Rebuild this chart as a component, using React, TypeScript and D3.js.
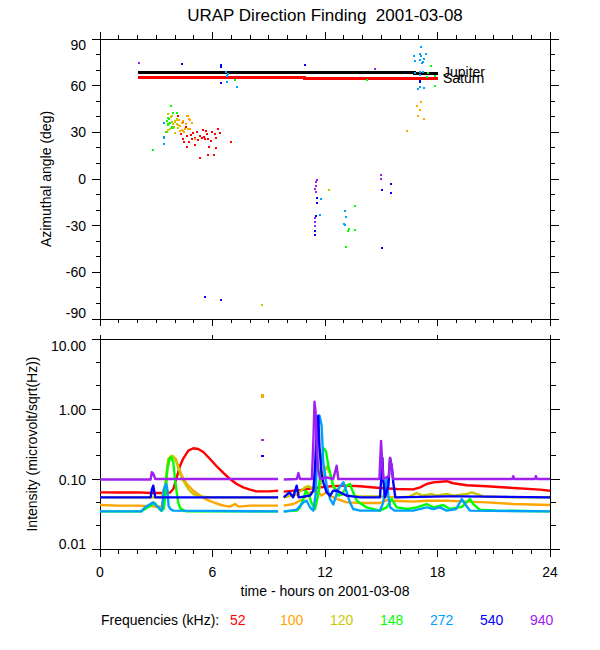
import React from "react";
import * as d3 from "d3";

// ---------- data ----------
const hourTicks = [0, 6, 12, 18, 24];
const hourMinorTicks = d3.range(0, 25, 1);
const angleTicks = [90, 60, 30, 0, -30, -60, -90];
const angleMinorTicks = d3.range(-90, 91, 10);
const intensityTicks = [10, 1, 0.1, 0.01];
const intensityTickLabels = ["10.00", "1.00", "0.10", "0.01"];
const intensityMinorTicks = [0.0215, 0.0464, 0.215, 0.464, 2.15, 4.64];
const frequencies = ["52", "100", "120", "148", "272", "540", "940"];
const freqColors = ["#ff0000", "#ffa500", "#c8c800", "#00ff00", "#00a0ff", "#0000ff", "#a020f0"];

type P = [number, number | null];

const jupiterAngle: P[] = [[2.0, 68.5], [16.75, 68.5], [16.75, 67.9], [18.05, 67.9]];
const saturnAngle: P[] = [[2.0, 65.3], [10.9, 65.3], [10.9, 64.7], [18.05, 64.7]];

const angle52: P[] = [[4.16,40.7],[4.44,36.6],[4.57,33.6],[4.3,28.7],[4.62,27.6],[4.43,25.4],[4.48,23.5],[4.75,23.5],[4.64,20.3],[4.89,25.6],[4.94,29.3],[5.16,30.2],[5.33,27.6],[5.49,31.2],[5.65,30.8],[5.69,29.1],[5.6,25.4],[5.78,25.9],[5.92,24.4],[6.13,28.7],[6.19,26.1],[5.97,30.2],[6.29,32.3],[6.4,29.3],[7.0,23.7],[5.08,21.8],[6.2,19.8],[5.81,20.3],[5.74,15.7],[5.35,13.6],[6.08,15.5],[5.05,26.5],[5.25,25.2],[5.45,26.5],[4.85,28.0],[5.55,27.0]];
const angle100: P[] = [[3.77,39.8],[4.09,37.7],[4.23,37.9],[4.44,37.3],[4.66,40.5],[4.76,38.3],[4.59,35.1],[4.89,35.8],[4.53,32.3],[4.71,31.9],[4.36,36.2],[4.27,30.8],[4.5,30.4],[3.57,30.4],[4.8,31.9],[4.44,30.8],[5.07,25.9],[4.71,40.5],[4.8,37.9],[4.0,36.5],[3.95,33.5],[4.15,34.5],[17.14,49.6],[16.91,46.8],[17.07,44.4],[16.98,40.7],[17.3,38.6],[16.37,30.6]];
const angle120: P[] = [[3.64,41.5],[3.82,40.5],[4.0,37.3],[4.09,35.5],[3.91,35.1],[4.18,32.9],[4.0,29.7],[4.27,34],[3.73,32.3],[3.6,31.4],[4.36,31.2],[4.09,38.3],[3.85,36.8],[3.7,35.5],[8.64,-80.8],[12.23,-7.1]];
const angle148: P[] = [[3.8,46.9],[3.88,42.2],[4.11,42.2],[3.65,39.2],[3.56,37.3],[3.73,36.2],[3.6,34.4],[3.82,33.6],[3.52,30.1],[3.91,32.9],[3.7,38.3],[2.81,18.5],[3.64,35.1],[3.82,33],[7.18,63.8],[17.67,72.4],[17.51,68.3],[17.87,66.4],[17.87,59.9],[17.42,65.3],[14.22,63.6],[13.6,-17.5],[13.3,-32.1],[13.21,-33.2],[13.6,-32.8],[13.14,-44]];
const angle272: P[] = [[3.41,36],[3.41,27.1],[3.41,22.8],[3.43,26.5],[6.72,68.5],[6.81,67.5],[6.79,66.4],[6.79,62.1],[7.32,59.3],[11.77,-12.9],[11.75,-23.3],[17.14,84.7],[17.07,80.4],[17.37,80.6],[16.73,78.9],[17.12,78.9],[17.26,77.2],[16.82,76.1],[17.07,76.5],[17.16,74.6],[17.24,75.4],[17.2,74.9],[17.05,68.5],[17.07,66.8],[17.07,59.3],[17.28,58.8],[16.98,57.8],[16.8,68.1],[17.25,69],[13.07,-20.7],[13.1,-24.4],[13.01,-28.7],[13.07,-29.5]];
const angle540: P[] = [[4.39,74.1],[6.47,73.1],[6.45,71.8],[10.95,73.1],[6.45,61.6],[5.62,-75.6],[6.47,-77.6],[11.56,-12.3],[11.57,-15.5],[11.52,-24.1],[11.48,-33.2],[11.47,-35.8],[17.07,63.1],[17.07,62.3],[15.52,-3],[15.06,-7.1],[15.52,-8.8],[15.02,-44.2]];
const angle940: P[] = [[2.08,74.6],[11.56,-0.6],[11.5,-2.2],[11.5,-4.7],[11.47,-6.3],[11.5,-8.6],[11.47,-25],[11.47,-27.4],[11.45,-30],[14.67,70.7],[15.0,2.6],[15.0,0]];

const intensity52: P[] = [[0,0.0645],[1,0.064],[2,0.0645],[2.76,0.0631],[3.5,0.063],[3.73,0.064],[3.91,0.072],[4.12,0.112],[4.27,0.155],[4.44,0.196],[4.71,0.254],[4.98,0.275],[5.24,0.268],[5.51,0.243],[5.87,0.193],[6.22,0.152],[6.58,0.122],[6.93,0.1],[7.29,0.085],[7.64,0.076],[8.0,0.0705],[8.36,0.0666],[9.0,0.0666],[9.5,0.0681],[9.6,null],[9.8,0.066],[10.67,0.069],[11.38,0.0744],[12.27,0.0786],[13.16,0.0803],[13.87,0.0786],[14.93,0.0744],[15.82,0.072],[16.71,0.071],[17.07,0.076],[17.42,0.0848],[17.78,0.0896],[18.49,0.093],[18.84,0.087],[19.56,0.0815],[20.62,0.0786],[22.04,0.0744],[23.47,0.0705],[24,0.068]];
const intensity100: P[] = [[0,0.0425],[1,0.0416],[2,0.0416],[2.76,0.041],[3.0,0.04],[3.3,0.041],[3.47,0.072],[3.59,0.139],[3.73,0.196],[3.91,0.205],[4.05,0.193],[4.18,0.147],[4.36,0.112],[4.62,0.085],[4.98,0.068],[5.33,0.058],[5.69,0.0507],[6.13,0.0454],[6.58,0.0416],[6.93,0.0403],[7.2,0.0439],[7.4,0.0403],[8.0,0.0416],[9.5,0.0416],[9.6,null],[9.8,0.0416],[10.31,0.0439],[10.84,0.0518],[11.2,0.0645],[11.56,0.068],[11.82,0.058],[12.09,0.065],[12.27,0.058],[12.62,0.052],[13.16,0.0464],[14.0,0.0454],[14.93,0.0454],[15.3,0.05],[15.64,0.049],[16.71,0.0475],[17.42,0.049],[18.49,0.049],[19.56,0.0475],[20.62,0.0464],[22.04,0.0439],[24,0.0425]];
const intensity120: P[] = [[0,0.0547],[3.3,0.0547],[3.47,0.08],[3.64,0.193],[3.8,0.215],[3.91,0.21],[4.09,0.173],[4.27,0.12],[4.44,0.0947],[4.71,0.072],[4.98,0.061],[5.33,0.0565],[5.87,0.0547],[9.5,0.0547],[9.6,null],[9.8,0.0547],[10.5,0.06],[10.93,0.076],[11.11,0.079],[11.38,0.072],[11.64,0.064],[11.91,0.12],[12.09,0.15],[12.27,0.12],[12.44,0.08],[12.71,0.0645],[13.16,0.0578],[13.87,0.0565],[14.93,0.0565],[15.82,0.0547],[16.5,0.056],[16.89,0.063],[17.2,0.0578],[17.69,0.061],[17.95,0.0578],[18.49,0.061],[18.84,0.0578],[19.56,0.061],[19.82,0.0645],[20.1,0.061],[20.45,0.0565],[22.04,0.0547],[24,0.0547]];
const intensity148: P[] = [[0,0.0345],[2.2,0.0345],[2.4,0.0373],[2.76,0.0425],[2.93,0.045],[3.1,0.0394],[3.25,0.0353],[3.4,0.0373],[3.52,0.072],[3.59,0.139],[3.7,0.193],[3.8,0.205],[3.91,0.173],[4.0,0.1],[4.09,0.0645],[4.18,0.045],[4.3,0.0373],[4.6,0.0345],[9.5,0.0345],[9.6,null],[9.8,0.0345],[10.5,0.0353],[10.67,0.0394],[10.84,0.0518],[10.98,0.068],[11.15,0.0578],[11.29,0.045],[11.47,0.0373],[11.64,0.06],[11.82,0.2],[11.93,0.276],[12.05,0.25],[12.18,0.155],[12.44,0.0803],[12.71,0.0578],[12.9,0.06],[13.16,0.08],[13.33,0.085],[13.5,0.0645],[13.7,0.049],[14.2,0.0394],[14.93,0.0353],[15.29,0.0394],[15.56,0.0518],[15.82,0.0394],[16.4,0.0373],[16.89,0.0394],[17.42,0.0439],[17.78,0.0394],[18.31,0.0425],[18.65,0.0373],[19.3,0.04],[19.73,0.0518],[19.91,0.0439],[20.25,0.0365],[21.15,0.0353],[24,0.0345]];
const intensity272: P[] = [[0,0.0345],[2.2,0.0345],[2.4,0.0394],[2.6,0.0425],[2.84,0.0464],[3.0,0.0416],[3.2,0.0373],[3.3,0.0353],[3.4,0.07],[3.47,0.0803],[3.53,0.0848],[3.59,0.072],[3.66,0.041],[3.75,0.0373],[3.91,0.0353],[9.5,0.0345],[9.6,null],[9.8,0.0342],[10.5,0.0365],[10.84,0.0464],[11.02,0.049],[11.2,0.0394],[11.38,0.0353],[11.5,0.06],[11.64,0.6],[11.7,0.81],[11.76,0.7],[11.82,0.578],[11.91,0.173],[12.09,0.0803],[12.27,0.0518],[12.44,0.0434],[12.71,0.072],[12.98,0.0896],[13.16,0.0645],[13.33,0.0464],[13.5,0.0373],[13.87,0.0353],[14.93,0.0353],[15.11,0.0464],[15.2,0.072],[15.29,0.1],[15.38,0.0578],[15.47,0.0394],[15.7,0.0353],[16.71,0.0353],[17.42,0.0394],[17.78,0.0373],[18.13,0.0394],[18.49,0.0353],[19.0,0.0373],[19.29,0.0518],[19.47,0.0439],[19.73,0.0353],[24,0.0345]];
const intensity540: P[] = [[0,0.0547],[2.7,0.0547],[2.76,0.07],[2.84,0.0803],[2.9,0.065],[2.95,0.0547],[9.5,0.0547],[9.6,null],[9.8,0.0547],[10.1,0.0645],[10.3,0.0547],[10.49,0.0803],[10.6,0.0547],[11.2,0.0578],[11.38,0.0681],[11.47,0.15],[11.56,0.5],[11.64,0.8],[11.7,0.3],[11.82,0.12],[11.91,0.0896],[12.09,0.0645],[12.27,0.0578],[12.44,0.0681],[12.62,0.0681],[12.98,0.061],[13.16,0.0578],[13.87,0.0547],[14.93,0.0547],[15.0,0.1],[15.06,0.2],[15.11,0.1],[15.2,0.0547],[15.38,0.08],[15.47,0.2],[15.56,0.15],[15.64,0.0896],[15.75,0.0547],[18.5,0.0565],[19.2,0.0565],[24,0.0547]];
const intensity940: P[] = [[0,0.0985],[2.7,0.0985],[2.76,0.125],[2.84,0.12],[2.95,0.1],[9.5,0.1],[9.6,null],[9.8,0.0985],[10.5,0.1],[10.58,0.122],[10.67,0.1],[11.3,0.1],[11.38,0.35],[11.44,1.27],[11.5,0.9],[11.56,0.3],[11.64,0.13],[11.75,0.1],[12.09,0.105],[12.44,0.1],[12.62,0.155],[12.71,0.1],[14.9,0.1],[14.99,0.35],[15.06,0.15],[15.11,0.1],[15.4,0.11],[15.47,0.2],[15.56,0.15],[15.64,0.1],[22.0,0.1],[22.04,0.11],[22.1,0.1],[23.2,0.1],[23.25,0.11],[23.3,0.1],[24,0.1]];

const isolated100: P[] = [[8.62, 1.58], [8.62, 1.5]];
const isolated540: P[] = [[8.62, 0.215]];
const isolated940: P[] = [[8.62, 0.364]];

const angleSeries = [angle52, angle100, angle120, angle148, angle272, angle540, angle940];
const intensitySeries = [intensity52, intensity100, intensity120, intensity148, intensity272, intensity540, intensity940];
const isolatedSeries: P[][] = [[], isolated100, [], [], [], isolated540, isolated940];

// ---------- layout ----------
const W = 600, H = 650;
const L = 100, R = 550;
const T1 = 39, B1 = 319;
const T2 = 339, B2 = 549;
const FONT = "'Liberation Sans', Arial, Helvetica, sans-serif";

export default function App() {
  const x = d3.scaleLinear().domain([0, 24]).range([L, R]);
  const yA = d3.scaleLinear().domain([-90, 90]).range([B1, T1]);
  const yI = d3.scaleLog().domain([0.01, 10]).range([B2, T2]);

  const lineA = d3.line<P>().defined(d => d[1] != null).x(d => x(d[0])).y(d => yA(d[1] as number)).curve(d3.curveStepAfter);
  const lineI = d3.line<P>().defined(d => d[1] != null).x(d => x(d[0])).y(d => yI(d[1] as number));

  const text = (props: any, s: string) => (
    <text fontFamily={FONT} fontSize={14} fill="#000" style={{ whiteSpace: "pre" }} {...props}>{s}</text>
  );

  const xTicksFor = (yBase: number, dir: number, withMinor: boolean, maj: number, min: number) => (
    <g>
      {withMinor && hourMinorTicks.map(h => (
        <line key={"m" + h} x1={x(h)} x2={x(h)} y1={yBase} y2={yBase + dir * min} stroke="#000" />
      ))}
      {hourTicks.map(h => (
        <line key={"M" + h} x1={x(h)} x2={x(h)} y1={yBase} y2={yBase + dir * maj} stroke="#000" />
      ))}
    </g>
  );

  const labelDy = (i: number, n: number) => (i === 0 ? 12 : i === n - 1 ? 0 : 6);

  return (
    <svg width={W} height={H} style={{ position: "absolute", left: 0, top: 0, background: "#fff" }} shapeRendering="crispEdges">
      <rect x={0} y={0} width={W} height={H} fill="#fff" />
      {text({ x: 325, y: 21, textAnchor: "middle", fontSize: 17 }, "URAP Direction Finding\u00a0\u00a02001-03-08")}

      {/* ---------- top panel ---------- */}
      <rect x={L} y={T1} width={R - L} height={B1 - T1} fill="none" stroke="#000" />
      {xTicksFor(T1, -1, true, 7, 4)}
      {xTicksFor(B1, 1, true, 7, 4)}
      {angleMinorTicks.map(a => (
        <g key={"am" + a}>
          <line x1={L} x2={L - 4} y1={yA(a)} y2={yA(a)} stroke="#000" />
          <line x1={R} x2={R + 5} y1={yA(a)} y2={yA(a)} stroke="#000" />
        </g>
      ))}
      {angleTicks.map((a, i) => (
        <g key={"aM" + a}>
          <line x1={L} x2={L - 8} y1={yA(a)} y2={yA(a)} stroke="#000" />
          <line x1={R} x2={R + 9} y1={yA(a)} y2={yA(a)} stroke="#000" />
          {text({ x: 86, y: yA(a) + labelDy(i, angleTicks.length) - 1, textAnchor: "end" }, String(a))}
        </g>
      ))}
      {text({ transform: `translate(51,${(T1 + B1) / 2}) rotate(-90)`, textAnchor: "middle" }, "Azimuthal angle (deg)")}

      <path d={lineA(jupiterAngle) || ""} fill="none" stroke="#000" strokeWidth={3} />
      <path d={lineA(saturnAngle) || ""} fill="none" stroke="#ff0000" strokeWidth={3} />
      {angleSeries.map((s, i) => (
        <g key={"as" + i} fill={freqColors[i]}>
          {s.map((d, j) => (
            <rect key={j} x={x(d[0]) - 1} y={yA(d[1] as number) - 1} width={2} height={2} />
          ))}
        </g>
      ))}
      {text({ x: 443, y: 77 }, "Jupiter")}
      {text({ x: 443, y: 82.5 }, "Saturn")}

      {/* ---------- bottom panel ---------- */}
      <rect x={L} y={T2} width={R - L} height={B2 - T2} fill="none" stroke="#000" />
      {xTicksFor(T2, -1, false, 4, 0)}
      {xTicksFor(B2, 1, true, 8, 5)}
      {intensityMinorTicks.map(v => (
        <g key={"im" + v}>
          <line x1={L} x2={L - 4} y1={yI(v)} y2={yI(v)} stroke="#000" />
          <line x1={R} x2={R + 6} y1={yI(v)} y2={yI(v)} stroke="#000" />
        </g>
      ))}
      {intensityTicks.map((v, i) => (
        <g key={"iM" + v}>
          <line x1={L} x2={L - 8} y1={yI(v)} y2={yI(v)} stroke="#000" />
          <line x1={R} x2={R + 10} y1={yI(v)} y2={yI(v)} stroke="#000" />
          {text({ x: 86, y: yI(v) + labelDy(i, intensityTicks.length), textAnchor: "end" }, intensityTickLabels[i])}
        </g>
      ))}
      {text({ transform: `translate(37,${(T2 + B2) / 2}) rotate(-90)`, textAnchor: "middle" }, "Intensity (microvolt/sqrt(Hz))")}

      <g shapeRendering="auto">
        {intensitySeries.map((s, i) => (
          <path key={"is" + i} d={lineI(s) || ""} fill="none" stroke={freqColors[i]} strokeWidth={2.4} strokeLinejoin="round" />
        ))}
      </g>
      {isolatedSeries.map((s, i) => (
        <g key={"iso" + i} fill={freqColors[i]}>
          {s.map((d, j) => (
            <rect key={j} x={x(d[0]) - 1} y={yI(d[1] as number) - 1} width={3} height={2} />
          ))}
        </g>
      ))}

      {hourTicks.map(h => text({ key: "xl" + h, x: x(h), y: 577, textAnchor: "middle" }, String(h)))}
      {text({ x: 325, y: 596, textAnchor: "middle" }, "time - hours on 2001-03-08")}

      {text({ x: 101, y: 625 }, "Frequencies (kHz):")}
      {frequencies.map((f, i) => text({ key: "lg" + f, x: 230 + i * 50, y: 625, fill: freqColors[i] }, f))}
    </svg>
  );
}
